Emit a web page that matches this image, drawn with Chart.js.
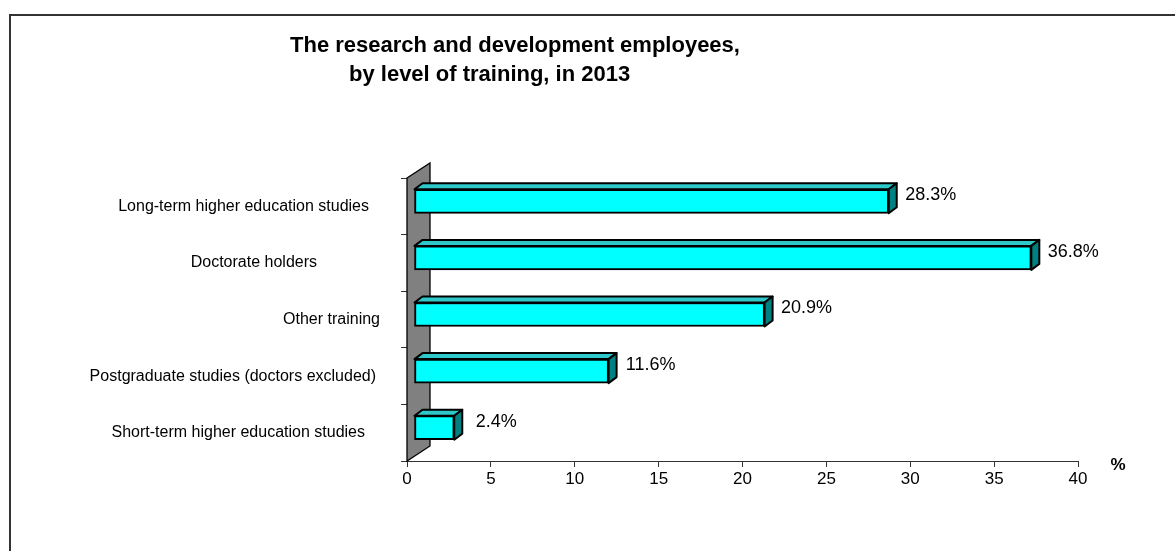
<!DOCTYPE html>
<html>
<head>
<meta charset="utf-8">
<script src="https://cdn.jsdelivr.net/npm/chart.js@4/dist/chart.umd.min.js"></script>
<style>
  html, body { margin: 0; padding: 0; background: #fff; overflow: hidden; }
  #wrap { position: relative; width: 1175px; height: 551px; }
</style>
</head>
<body>
<div id="wrap"><canvas id="c" width="1175" height="551"></canvas></div>
<script>
// ---- data ----
const categories = [
  "Long-term higher education studies",
  "Doctorate holders",
  "Other training",
  "Postgraduate studies (doctors excluded)",
  "Short-term higher education studies"
];
const values = [28.3, 36.8, 20.9, 11.6, 2.4];
const titleLines = ["The research and development employees,", "by level of training, in 2013"];
const axisUnit = "%";
const xMin = 0, xMax = 40, xStep = 5;

// ---- layout / style ----
const FONT = "'Liberation Sans', Arial, Helvetica, sans-serif";
const labelRightEdges = [369, 317, 380, 376, 365];
const barShift = { x: 7, y: -5 };
const barDepth = { x: 8, y: -6 };
const wallDepth = { x: 23, y: -15 };

const decorPlugin = {
  id: 'decor',
  beforeDraw(chart) {
    const ctx = chart.ctx;
    ctx.save();
    ctx.strokeStyle = '#333';
    ctx.lineWidth = 2;
    ctx.beginPath();
    ctx.moveTo(10, 560);
    ctx.lineTo(10, 15);
    ctx.lineTo(1190, 15);
    ctx.stroke();
    // title
    ctx.fillStyle = '#000';
    ctx.font = 'bold 22px ' + FONT;
    ctx.textAlign = 'left';
    ctx.textBaseline = 'middle';
    ctx.fillText(titleLines[0], 290, 46);
    ctx.fillText(titleLines[1], 349, 75);
    ctx.restore();
  },
  beforeDatasetsDraw(chart) {
    const ctx = chart.ctx;
    const a = chart.chartArea;
    // wall
    ctx.save();
    ctx.fillStyle = '#808080';
    ctx.strokeStyle = '#000';
    ctx.lineWidth = 1.3;
    ctx.beginPath();
    ctx.moveTo(a.left, a.top);
    ctx.lineTo(a.left + wallDepth.x, a.top + wallDepth.y);
    ctx.lineTo(a.left + wallDepth.x, a.bottom + wallDepth.y);
    ctx.lineTo(a.left, a.bottom);
    ctx.closePath();
    ctx.fill();
    ctx.stroke();
    ctx.restore();
    // bars: 3D faces, then front faces drawn by Chart.js in shifted frame
    ctx.save();
    ctx.translate(barShift.x, barShift.y);
    const meta = chart.getDatasetMeta(0);
    meta.data.forEach(bar => {
      const p = bar.getProps(['x', 'y', 'base', 'height'], true);
      const top = p.y - p.height / 2, bottom = p.y + p.height / 2;
      ctx.lineWidth = 2;
      ctx.strokeStyle = '#000';
      ctx.lineJoin = 'round';
      ctx.fillStyle = '#2EC8C8';
      ctx.beginPath();
      ctx.moveTo(p.base, top);
      ctx.lineTo(p.base + barDepth.x, top + barDepth.y);
      ctx.lineTo(p.x + barDepth.x, top + barDepth.y);
      ctx.lineTo(p.x, top);
      ctx.closePath();
      ctx.fill(); ctx.stroke();
      ctx.fillStyle = '#008080';
      ctx.beginPath();
      ctx.moveTo(p.x, top);
      ctx.lineTo(p.x + barDepth.x, top + barDepth.y);
      ctx.lineTo(p.x + barDepth.x, bottom + barDepth.y);
      ctx.lineTo(p.x, bottom);
      ctx.closePath();
      ctx.fill(); ctx.stroke();
    });
  },
  afterDatasetsDraw(chart) {
    const ctx = chart.ctx;
    ctx.restore();
    ctx.save();
    const meta = chart.getDatasetMeta(0);
    ctx.fillStyle = '#000';
    ctx.font = '18px ' + FONT;
    ctx.textAlign = 'center';
    ctx.textBaseline = 'middle';
    meta.data.forEach((bar, i) => {
      const p = bar.getProps(['x', 'y'], true);
      ctx.fillText(values[i].toFixed(1) + '%', p.x + barShift.x + 42, p.y - 11);
    });
    // category labels
    const ys = chart.scales.y;
    ctx.font = '16px ' + FONT;
    ctx.textAlign = 'right';
    categories.forEach((c, i) => {
      ctx.fillText(c, labelRightEdges[i], ys.getPixelForValue(i));
    });
    // unit
    ctx.font = 'bold 17px ' + FONT;
    ctx.textAlign = 'center';
    ctx.fillText(axisUnit, 1118, 465);
    ctx.restore();
  }
};

new Chart(document.getElementById('c'), {
  type: 'bar',
  data: {
    labels: categories,
    datasets: [{
      data: values,
      backgroundColor: '#00FFFF',
      borderColor: '#000',
      borderWidth: 2,
      borderSkipped: false,
      barThickness: 24,
      clip: false
    }]
  },
  options: {
    indexAxis: 'y',
    responsive: false,
    animation: false,
    devicePixelRatio: 1,
    layout: { padding: { left: 401, right: 97, top: 178, bottom: 60 } },
    plugins: { legend: { display: false }, title: { display: false }, tooltip: { enabled: false } },
    scales: {
      x: {
        min: xMin, max: xMax,
        ticks: { stepSize: xStep, color: '#000', font: { family: FONT, size: 17 }, padding: 2 },
        grid: { drawOnChartArea: false, drawTicks: true, tickLength: 6, color: '#333' },
        border: { display: true, color: '#333', width: 1 },
        afterFit(s) { s.height = 30; }
      },
      y: {
        ticks: { display: false },
        grid: { drawOnChartArea: false, drawTicks: true, tickLength: 6, color: '#333', offset: true },
        border: { display: true, color: '#333', width: 1 },
        afterFit(s) { s.width = 6; }
      }
    }
  },
  plugins: [decorPlugin]
});
</script>
</body>
</html>
